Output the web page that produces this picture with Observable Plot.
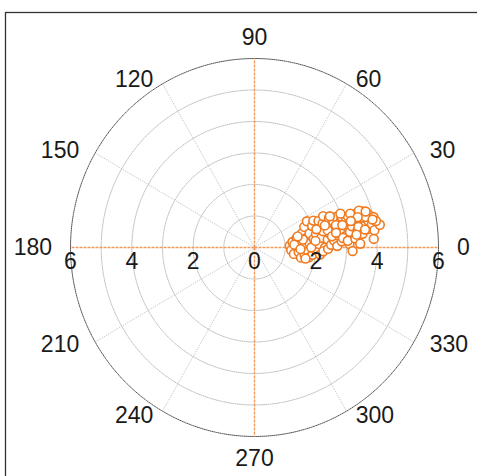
<!DOCTYPE html>
<html>
<head>
<meta charset="utf-8">
<script src="https://cdn.jsdelivr.net/npm/d3@7"></script>
<script src="https://cdn.jsdelivr.net/npm/@observablehq/plot@0.6"></script>
<style>
  html, body { margin: 0; padding: 0; background: #fff; }
  #chart { width: 477px; height: 476px; overflow: hidden; }
</style>
</head>
<body>
<div id="chart"></div>
<script>
// ---- data: angle in degrees, radius ----
const theta = [
  3,-4,8,-9,2,12,-6,5,-12,16,0,-8,10,22,-4,-10,4,14,26,-7,8,20,-2,12,24,3,-6,17,8,22,0,13,
  4,-2,-12,0,6,16,-3,9,14,-1,
  19,6,24,10,2,16,21,5,12,18,1,8,14,20,4,11,17,7,19,13,2,16,9,-2,18,
  13,8,22,15,6,21,17,10,4,14,
  12,5,15,9,18,2,13,17,7,11,15,18,9,13,16,4,11,8,14,10,12,
  19,11,19,7,15,16,9,13,15,17.5
];
const radius = [
  1.15,1.2,1.25,1.3,1.35,1.4,1.45,1.5,1.55,1.6,1.6,1.65,1.7,1.75,1.75,1.8,1.8,1.85,1.9,1.9,1.95,2.0,2.0,2.05,2.1,2.1,2.15,2.2,2.2,2.25,2.3,2.3,
  1.3,1.5,1.7,1.85,2.0,2.1,2.25,1.6,1.45,2.4,
  2.35,2.4,2.45,2.5,2.5,2.55,2.6,2.6,2.65,2.7,2.7,2.75,2.8,2.85,2.85,2.9,2.95,3.0,3.0,3.05,3.1,3.1,3.15,3.2,3.2,
  2.45,2.55,2.65,2.75,2.9,3.0,2.4,2.7,3.05,2.95,
  3.25,3.3,3.35,3.4,3.4,3.45,3.5,3.55,3.55,3.6,3.65,3.7,3.75,3.8,3.85,3.9,3.9,3.95,4.0,4.15,4.05,
  3.3,3.45,3.6,3.35,3.75,3.5,3.65,3.95,3.25,3.8
];
const ringValues = [1, 2, 3, 4, 5];
const rMax = 6;
const angleTicks = [0, 30, 60, 90, 120, 150, 180, 210, 240, 270, 300, 330];
const radialTicks = [-6, -4, -2, 0, 2, 4, 6];

// ---- helpers ----
const rad = (a) => a * Math.PI / 180;
const points = theta.map((t, i) => ({theta: t, r: radius[i]}));
const circlePts = (rs) => rs.flatMap((r) => d3.range(0, 361, 2).map((a) => ({ring: r, a})));
const ringPts = circlePts(ringValues);
const outerPts = circlePts([rMax]);
const spokes = angleTicks.filter((a) => a % 90 !== 0);
const axes = [0, 90, 180, 270];

const RX = 6.6, RY = 6.15;
const labelStart = angleTicks.filter((a) => a < 90 || a > 270);
const labelEnd = angleTicks.filter((a) => a > 90 && a < 270);

const plot = Plot.plot({
  width: 477,
  height: 476,
  marginLeft: 70,
  marginRight: 39,
  marginTop: 58,
  marginBottom: 40,
  x: {domain: [-rMax, rMax], axis: null},
  y: {domain: [-rMax, rMax], axis: null},
  style: {fontFamily: "'Liberation Sans', Arial, sans-serif", fontSize: "23px", background: "#fff", color: "#1a1a1a"},
  marks: [
    Plot.line(ringPts, {x: (d) => d.ring * Math.cos(rad(d.a)), y: (d) => d.ring * Math.sin(rad(d.a)), z: "ring", stroke: "#b4b4b4", strokeWidth: 0.9, strokeDasharray: "1,1.2"}),
    Plot.line(outerPts, {x: (d) => d.ring * Math.cos(rad(d.a)), y: (d) => d.ring * Math.sin(rad(d.a)), z: "ring", stroke: "#555", strokeWidth: 1, strokeDasharray: "1,1"}),
    Plot.link(spokes, {x1: 0, y1: 0, x2: (a) => rMax * Math.cos(rad(a)), y2: (a) => rMax * Math.sin(rad(a)), stroke: "#b4b4b4", strokeWidth: 0.9, strokeDasharray: "1,1.2"}),
    Plot.link(axes, {x1: 0, y1: 0, x2: (a) => rMax * Math.cos(rad(a)), y2: (a) => rMax * Math.sin(rad(a)), stroke: "#f39a5a", strokeWidth: 1.4, strokeDasharray: "3,1"}),
    Plot.dot(points, {x: (d) => d.r * Math.cos(rad(d.theta)), y: (d) => d.r * Math.sin(rad(d.theta)), r: 4.4, stroke: "#f07a20", strokeWidth: 1.6, fill: "#fff"}),
    Plot.text(labelStart, {x: (a) => RX * Math.cos(rad(a)), y: (a) => RY * Math.sin(rad(a)), text: (a) => String(a), textAnchor: "start", lineAnchor: "middle", fill: "#1a1a1a"}),
    Plot.text(labelEnd, {x: (a) => RX * Math.cos(rad(a)), y: (a) => RY * Math.sin(rad(a)), text: (a) => String(a), textAnchor: "end", lineAnchor: "middle", fill: "#1a1a1a"}),
    Plot.text([90], {x: 0, y: 6.42, text: (a) => String(a), textAnchor: "middle", lineAnchor: "bottom", fill: "#1a1a1a"}),
    Plot.text([270], {x: 0, y: -6.42, text: (a) => String(a), textAnchor: "middle", lineAnchor: "top", fill: "#1a1a1a"}),
    Plot.text(radialTicks, {x: (v) => v, y: 0, text: (v) => String(Math.abs(v)), textAnchor: "middle", lineAnchor: "top", dy: 5, fill: "#1a1a1a"})
  ]
});

// figure border (MATLAB-style axes frame, partly cropped)
d3.select(plot).insert("rect", ":first-child")
  .attr("x", 5.5).attr("y", 12.5).attr("width", 520).attr("height", 520)
  .attr("fill", "none").attr("stroke", "#333").attr("stroke-width", 1.3);

document.getElementById("chart").appendChild(plot);
</script>
</body>
</html>
